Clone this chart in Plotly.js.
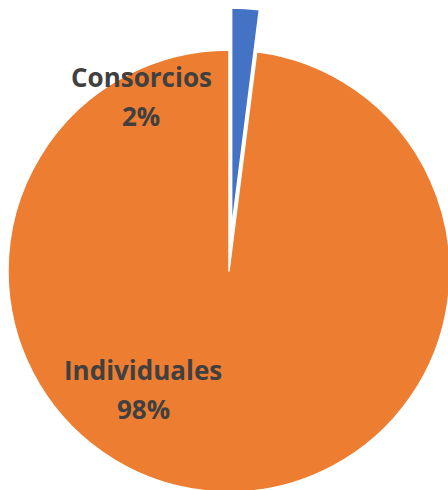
<!DOCTYPE html>
<html>
<head>
<meta charset="utf-8">
<script src="https://cdn.plot.ly/plotly-3.0.1.min.js"></script>
<style>
  html, body { margin: 0; padding: 0; background: #ffffff; }
  #frame { position: relative; width: 448px; height: 490px; overflow: hidden; background: #ffffff; }
  #chart { position: absolute; left: -34px; top: 8px; width: 526px; height: 526px; }
</style>
</head>
<body>
<div id="frame"><div id="chart"></div></div>
<script>
// Data
const labels = ["Consorcios", "Individuales"];
const values = [2, 98];
const colors = ["#4472C4", "#ED7D31"];
const pulls = [0.19, 0];

// Label placement (page pixels) for name line and percent line
const labelPos = [
  { x: 141, yName: 77, yPct: 116 },
  { x: 143, yName: 370, yPct: 409 }
];

const W = 526, H = 526, offX = -34, offY = 8;
const px = x => (x - offX) / W;
const py = y => 1 - (y - offY) / H;

const total = values.reduce((a, b) => a + b, 0);
const annotations = [];
labels.forEach((lab, i) => {
  const pct = Math.round(values[i] / total * 100) + "%";
  const font = { family: "Open Sans, Lato, sans-serif", size: 26, color: "#404040", weight: "bold" };
  annotations.push({ text: lab, x: px(labelPos[i].x), y: py(labelPos[i].yName), xref: "paper", yref: "paper",
    showarrow: false, xanchor: "center", yanchor: "middle", font: font });
  annotations.push({ text: pct, x: px(labelPos[i].x), y: py(labelPos[i].yPct), xref: "paper", yref: "paper",
    showarrow: false, xanchor: "center", yanchor: "middle", font: font });
});

const trace = {
  type: "pie",
  labels: labels,
  values: values,
  sort: false,
  direction: "clockwise",
  rotation: 0,
  pull: pulls,
  marker: { colors: colors, line: { color: "#ffffff", width: 1.5 } },
  textinfo: "none",
  hoverinfo: "label+percent",
  showlegend: false
};

const layout = {
  width: W, height: H,
  margin: { l: 0, r: 0, t: 0, b: 0, pad: 0 },
  paper_bgcolor: "rgba(0,0,0,0)",
  plot_bgcolor: "rgba(0,0,0,0)",
  showlegend: false,
  annotations: annotations
};

Plotly.newPlot("chart", [trace], layout, { displayModeBar: false, staticPlot: true });
</script>
</body>
</html>
